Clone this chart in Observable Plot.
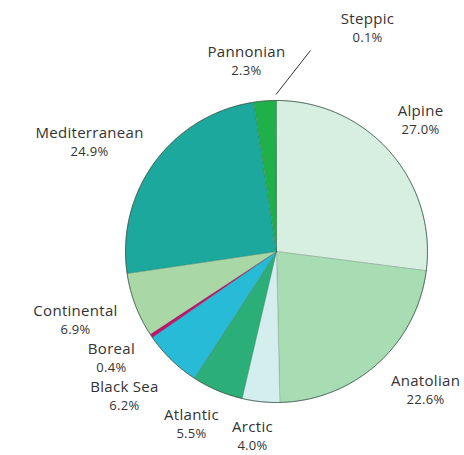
<!DOCTYPE html>
<html>
<head>
<meta charset="utf-8">
<script src="https://cdn.jsdelivr.net/npm/d3@7"></script>
<script src="https://cdn.jsdelivr.net/npm/@observablehq/plot@0.6"></script>
<style>
  html, body { margin: 0; padding: 0; background: #fff; }
  #chart { width: 464px; height: 455px; }
  #chart text { letter-spacing: 0.3px; }
</style>
</head>
<body>
<div id="chart"></div>
<script>
// ---- data ----
const regions = ["Alpine", "Anatolian", "Arctic", "Atlantic", "Black Sea", "Boreal", "Continental", "Mediterranean", "Pannonian", "Steppic"];
const shares = [27.0, 22.6, 4.0, 5.5, 6.2, 0.4, 6.9, 24.9, 2.3, 0.1];

// ---- styles / layout ----
const colors = ["#d6efe0", "#a8dcb2", "#d4edef", "#2cae78", "#27bbd7", "#c2136e", "#a9d7a5", "#1ca89c", "#20b04a", "#1a9a3a"];
// label block centres, in pie-radius units (x right, y up from the centre)
const labelXY = [
  [0.954, 0.868], [0.987, -0.921], [-0.159, -1.225], [-0.563, -1.146], [-1.007, -0.960],
  [-1.093, -0.709], [-1.331, -0.457], [-1.238, 0.722], [-0.199, 1.258], [0.603, 1.477]
];
const leaderEnd = [0.225, 1.331];

const W = 464, H = 455, CX = 276, CY = 251, R = 151;

const arcs = d3.pie().sort(null).value(d => d)(shares);
const slicePts = [];
arcs.forEach((a, i) => {
  const name = regions[i];
  slicePts.push({name, x: 0, y: 0});
  const n = Math.max(2, Math.ceil((a.endAngle - a.startAngle) / (Math.PI / 360)));
  for (let k = 0; k <= n; k++) {
    const t = a.startAngle + (a.endAngle - a.startAngle) * k / n;
    slicePts.push({name, x: Math.sin(t), y: Math.cos(t)});
  }
  slicePts.push({name, x: 0, y: 0});
});
const rim = d3.range(0, 361, 1).map(d => ({x: Math.sin(d * Math.PI / 180), y: Math.cos(d * Math.PI / 180)}));

const labels = regions.map((name, i) => ({
  name, pct: `${shares[i].toFixed(1)}%`,
  x: labelXY[i][0], y: labelXY[i][1]
}));
const st = arcs[arcs.length - 1];
const stMid = (st.startAngle + st.endAngle) / 2;
const leader = [{x1: Math.sin(stMid) * 1.04, y1: Math.cos(stMid) * 1.04, x2: leaderEnd[0], y2: leaderEnd[1]}];

const textStyle = {x: "x", y: "y", fontSize: 15, fill: "#333", textAnchor: "middle"};

const chart = Plot.plot({
  width: W, height: H,
  margin: 0,
  x: {domain: [-CX / R, (W - CX) / R], range: [0, W], axis: null},
  y: {domain: [(CY - H) / R, CY / R], range: [H, 0], axis: null},
  color: {domain: regions, range: colors},
  style: {fontFamily: "Open Sans", background: "#fff"},
  marks: [
    Plot.line(slicePts, {x: "x", y: "y", z: "name", fill: "name", stroke: "#2f4f44", strokeOpacity: 0.35, strokeWidth: 0.6}),
    Plot.line(rim, {x: "x", y: "y", stroke: "#3b5a4c", strokeWidth: 1, strokeOpacity: 0.8}),
    Plot.link(leader, {x1: "x1", y1: "y1", x2: "x2", y2: "y2", stroke: "#333", strokeWidth: 1}),
    Plot.text(labels, {...textStyle, text: "name", dy: -9}),
    Plot.text(labels, {...textStyle, text: "pct", dy: 9, fontSize: 13})
  ]
});
document.getElementById("chart").appendChild(chart);
</script>
</body>
</html>
